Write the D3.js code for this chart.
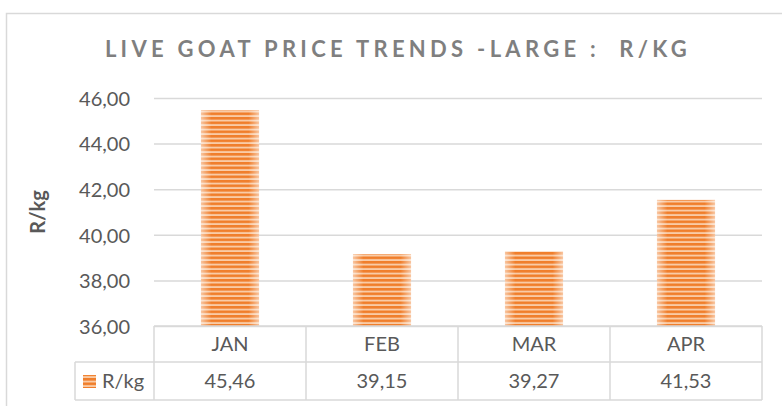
<!DOCTYPE html>
<html><head><meta charset="utf-8">
<script src="https://cdn.jsdelivr.net/npm/d3@7"></script>
<style>body{margin:0;background:#fff}svg{display:block}</style>
</head><body>
<svg id="c" width="782" height="406"></svg>
<script>
const categories = ["JAN", "FEB", "MAR", "APR"];
const values = [45.46, 39.15, 39.27, 41.53];
const valueLabels = ["45,46", "39,15", "39,27", "41,53"];
const yTicks = [36, 38, 40, 42, 44, 46];
const seriesName = "R/kg";
const title = "LIVE GOAT PRICE TRENDS -LARGE :  R/KG";
const yTitle = "R/kg";

const svg = d3.select("#c");
const font = "Lato, 'Open Sans', sans-serif";
const grid = "#d9d9d9";
const txt = "#595959";

const L = 154, R = 762, T = 98, B = 326;
const x = d3.scaleBand().domain(categories).range([L, R]).paddingInner(0.618).paddingOuter(0.309);
const xc = d3.scaleBand().domain(categories).range([L, R]);
const y = d3.scaleLinear().domain([36, 46]).range([B, T]);

// outer border
svg.append("rect").attr("x", 6.5).attr("y", 13.5).attr("width", 820).attr("height", 420)
  .attr("fill", "none").attr("stroke", grid).attr("stroke-width", 1.5);

// defs
const defs = svg.append("defs");
const pat = defs.append("pattern").attr("id", "stripe").attr("patternUnits", "userSpaceOnUse")
  .attr("width", 8).attr("height", 4.5);
pat.append("rect").attr("width", 8).attr("height", 4.5).attr("fill", "#f9cba6");
pat.append("rect").attr("width", 8).attr("height", 2.6).attr("fill", "#f07e2b");
const g = defs.append("linearGradient").attr("id", "edge").attr("x1", 0).attr("x2", 1).attr("y1", 0).attr("y2", 0);
[[0, 0.55], [0.18, 0], [0.82, 0], [1, 0.55]].forEach(([o, a]) =>
  g.append("stop").attr("offset", o).attr("stop-color", "#fff").attr("stop-opacity", a));

// title
svg.append("text").attr("x", 398).attr("y", 57).attr("text-anchor", "middle")
  .attr("font-family", font).attr("font-weight", "bold").attr("font-size", 22)
  .attr("letter-spacing", 4.3).attr("fill", "#7f7f7f").style("white-space", "pre").text(title);

// gridlines
const yAxis = d3.axisLeft(y).tickValues(yTicks).tickSize(-(R - L)).tickPadding(24)
  .tickFormat(d => d3.format(".2f")(d).replace(".", ","));
const ya = svg.append("g").attr("transform", `translate(${L},0)`).call(yAxis);
ya.select(".domain").remove();
ya.selectAll(".tick line").attr("stroke", grid).attr("stroke-width", 1.5);
ya.selectAll(".tick text").attr("font-family", font).attr("font-size", 20).attr("fill", txt)
  .attr("dy", "0.36em");

// y title
svg.append("text").attr("transform", `translate(45,${y(41)}) rotate(-90)`).attr("text-anchor", "middle")
  .attr("font-family", font).attr("font-weight", "bold").attr("font-size", 20).attr("fill", txt).text(yTitle);

// bars
const bars = svg.append("g");
bars.selectAll("rect.b").data(values).join("rect").attr("class", "b")
  .attr("x", (d, i) => x(categories[i])).attr("width", x.bandwidth())
  .attr("y", d => y(d)).attr("height", d => B - y(d)).attr("fill", "url(#stripe)");
bars.selectAll("rect.e").data(values).join("rect").attr("class", "e")
  .attr("x", (d, i) => x(categories[i])).attr("width", x.bandwidth())
  .attr("y", d => y(d)).attr("height", d => B - y(d)).attr("fill", "url(#edge)");

// data table
const r1 = 362, r2 = 400, LL = 75;
const tb = svg.append("g").attr("stroke", grid).attr("stroke-width", 1.5);
tb.append("line").attr("x1", L).attr("x2", R).attr("y1", B).attr("y2", B);
tb.append("line").attr("x1", LL).attr("x2", R).attr("y1", r1).attr("y2", r1);
tb.append("line").attr("x1", LL).attr("x2", R).attr("y1", r2).attr("y2", r2);
tb.append("line").attr("x1", LL).attr("x2", LL).attr("y1", r1).attr("y2", r2);
categories.concat(["_end"]).forEach((c, i) => {
  const xx = i < categories.length ? xc(c) : R;
  tb.append("line").attr("x1", xx).attr("x2", xx).attr("y1", B).attr("y2", r2);
});
svg.append("g").selectAll("text").data(categories).join("text")
  .attr("x", d => xc(d) + xc.bandwidth() / 2).attr("y", (B + r1) / 2).attr("dy", "0.36em")
  .attr("text-anchor", "middle").attr("font-family", font).attr("font-size", 20).attr("fill", txt).text(d => d);
svg.append("g").selectAll("text").data(valueLabels).join("text")
  .attr("x", (d, i) => xc(categories[i]) + xc.bandwidth() / 2).attr("y", (r1 + r2) / 2).attr("dy", "0.36em")
  .attr("text-anchor", "middle").attr("font-family", font).attr("font-size", 20).attr("fill", txt).text(d => d);
// legend key
svg.append("rect").attr("x", 83).attr("y", 375).attr("width", 13).attr("height", 13).attr("fill", "url(#stripe)");
svg.append("text").attr("x", 102).attr("y", (r1 + r2) / 2).attr("dy", "0.36em")
  .attr("font-family", font).attr("font-size", 20).attr("fill", txt).text(seriesName);
</script>
</body></html>
